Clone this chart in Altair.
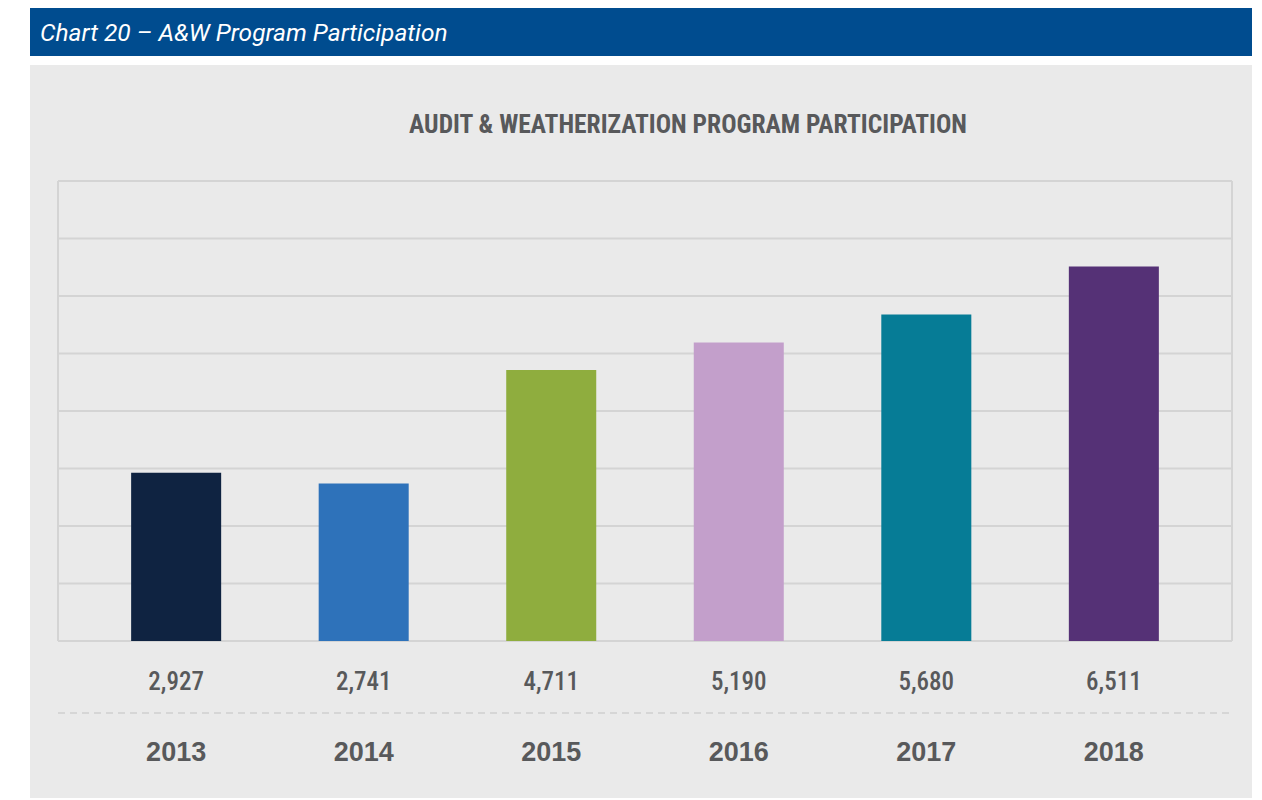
import altair as alt
import pandas as pd

years = ["2013", "2014", "2015", "2016", "2017", "2018"]
values = [2927, 2741, 4711, 5190, 5680, 6511]
value_labels = ["2,927", "2,741", "4,711", "5,190", "5,680", "6,511"]
colors = ["#0F2341", "#2E72BA", "#8FAD3E", "#C39FCB", "#067C96", "#553176"]
grid_values = [0, 1000, 2000, 3000, 4000, 5000, 6000, 7000, 8000]

header_text = "Chart 20 \u2013 A&W Program Participation"
title_text = "AUDIT & WEATHERIZATION PROGRAM PARTICIPATION"

df = pd.DataFrame({"year": years, "value": values, "label": value_labels})
grid_df = pd.DataFrame({"g": grid_values})
one = pd.DataFrame({"a": [0]})

W, H = 1174, 460
GRID = "#D4D4D4"
TEXT = "#58595B"
NARROW = "Roboto Condensed, Liberation Sans Narrow, DejaVu Sans Condensed, sans-serif"

xs = alt.Scale(domain=years, paddingInner=0.52, paddingOuter=0.39)
ys = alt.Scale(domain=[0, 8000])

panel = alt.Chart(one).mark_rect(color="#EAEAEA").encode(
    x=alt.value(-28), x2=alt.value(1196), y=alt.value(-116), y2=alt.value(619)
)
header = alt.Chart(one).mark_rect(color="#004C8F").encode(
    x=alt.value(-28), x2=alt.value(1196), y=alt.value(-173), y2=alt.value(-125)
)
header_lbl = alt.Chart(one).mark_text(
    align="left", baseline="alphabetic", font="Roboto", fontStyle="italic",
    fontSize=24.5, color="white"
).encode(x=alt.value(-18), y=alt.value(-140), text=alt.value(header_text))
title = alt.Chart(one).mark_text(
    align="center", baseline="alphabetic", font=NARROW, fontWeight="bold",
    fontSize=25.5, color=TEXT
).encode(x=alt.value(630), y=alt.value(-48), text=alt.value(title_text))

grid = alt.Chart(grid_df).mark_rule(color=GRID, strokeWidth=2).encode(
    y=alt.Y("g:Q", scale=ys, axis=None), x=alt.value(0), x2=alt.value(W)
)
border = alt.Chart(pd.DataFrame({"p": [0, W]})).mark_rule(color=GRID, strokeWidth=2).encode(
    x=alt.X("p:Q", scale=None), y=alt.value(0), y2=alt.value(H)
)

bars = alt.Chart(df).mark_bar().encode(
    x=alt.X("year:N", scale=xs, axis=None),
    y=alt.Y("value:Q", scale=ys, axis=None),
    color=alt.Color("year:N", scale=alt.Scale(domain=years, range=colors), legend=None),
)

val_txt = alt.Chart(df).mark_text(
    baseline="alphabetic", font=NARROW, fontSize=25, fontWeight=500, color=TEXT
).encode(x=alt.X("year:N", scale=xs, axis=None), y=alt.value(509), text="label:N")

dash = alt.Chart(one).mark_rule(color="#D0D0D0", strokeWidth=1.5, strokeDash=[7, 5]).encode(
    x=alt.value(0), x2=alt.value(W), y=alt.value(532)
)

year_txt = alt.Chart(df).mark_text(
    baseline="alphabetic", font="Liberation Sans", fontWeight="bold", fontSize=27, color=TEXT
).encode(x=alt.X("year:N", scale=xs, axis=None), y=alt.value(580), text="year:N")

chart = alt.layer(
    panel, header, header_lbl, title, grid, border, bars, val_txt, dash, year_txt
).properties(
    width=W, height=H,
    autosize=alt.AutoSizeParams(type="none"),
    padding={"left": 50, "top": 173, "right": 20, "bottom": 157},
    background="white",
).configure_view(stroke=None)

chart.save("out.html", embed_options={"renderer": "svg", "actions": False})
